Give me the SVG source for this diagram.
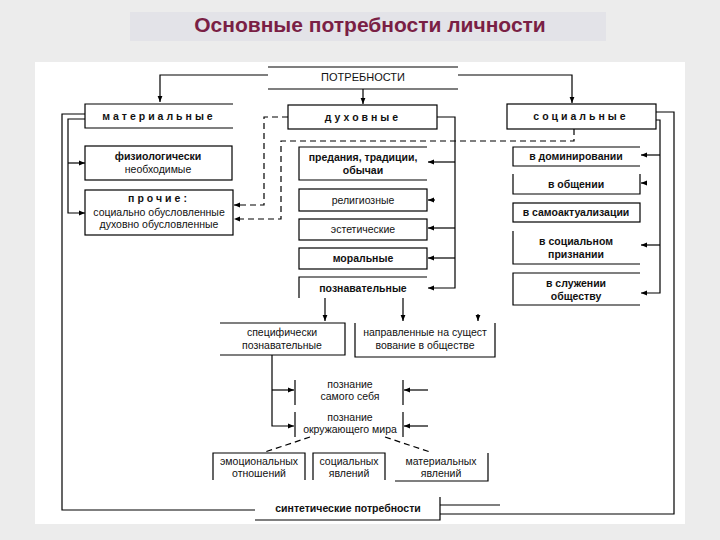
<svg xmlns="http://www.w3.org/2000/svg" width="720" height="540" viewBox="0 0 720 540">
<defs>
<marker id="a" viewBox="0 0 10 10" refX="10" refY="5" markerWidth="5" markerHeight="5" orient="auto"><path d="M0,1 L10,5 L0,9 z" fill="#000"/></marker>
<style>
.l{stroke:#000;stroke-width:1.2;fill:none}
.d{stroke:#000;stroke-width:1.2;fill:none;stroke-dasharray:6,4}
.b{fill:#fff;stroke:#000;stroke-width:1.2}
text{font-family:"Liberation Sans",Arial,sans-serif;font-size:10.5px;text-anchor:middle;fill:#111}
.bo{font-weight:bold}
.sp{font-weight:bold;letter-spacing:3px}
</style>
</defs>
<rect width="720" height="540" fill="#ececec"/>
<rect x="130" y="12" width="476" height="29" fill="#e3e3e8"/>
<text x="370" y="32" style="font-size:21px;font-weight:bold;fill:#7a1f45">Основные потребности личности</text>
<rect x="35" y="62" width="650" height="462" fill="#fff"/>
<g id="connectors">
<path class="l" d="M268,75 H160 V102" marker-end="url(#a)"/>
<path class="l" d="M458,75 H572 V103" marker-end="url(#a)"/>
<path class="l" d="M363,89 V104" marker-end="url(#a)"/>
<path class="l" d="M85,114 H62 V510 H255"/>
<path class="l" d="M85,119 H68 V213 H85" marker-end="url(#a)"/>
<path class="l" d="M68,163 H85" marker-end="url(#a)"/>
<path class="d" d="M288,117 H264 V205 H234" marker-end="url(#a)"/>
<path class="d" d="M574,129 V141 H281 V219 H234" marker-end="url(#a)"/>
<path class="l" d="M437,117 H455 V288 H428" marker-end="url(#a)"/>
<path class="l" d="M455,162 H428" marker-end="url(#a)"/>
<path class="l" d="M435,200 H428" marker-end="url(#a)"/>
<path class="l" d="M455,228 H428" marker-end="url(#a)"/>
<path class="l" d="M455,258 H428" marker-end="url(#a)"/>
<path class="l" d="M325,298 V321" marker-end="url(#a)"/>
<path class="l" d="M403,298 V321" marker-end="url(#a)"/>
<path class="l" d="M478,314 V321" marker-end="url(#a)"/>
<path class="l" d="M656,112 H674 V514 H440"/>
<path class="l" d="M440,505 H500"/>
<path class="l" d="M656,120 H660 V293 H641" marker-end="url(#a)"/>
<path class="l" d="M660,155 H641" marker-end="url(#a)"/>
<path class="l" d="M647,183 H641" marker-end="url(#a)"/>
<path class="l" d="M660,245 H641" marker-end="url(#a)"/>
<path class="l" d="M272,355 V426 H294" marker-end="url(#a)"/>
<path class="l" d="M272,390 H294" marker-end="url(#a)"/>
<path class="l" d="M428,390 H404" marker-end="url(#a)"/>
<path class="l" d="M428,426 H404" marker-end="url(#a)"/>
<path class="d" d="M310,437 L265,452"/>
<path class="d" d="M385,437 L430,452"/>
</g>
<g id="n-potr"><path class="l" d="M268,67 H458 M268,89 H458"/><text x="363" y="81" style="font-size:11px">ПОТРЕБНОСТИ</text></g>
<g id="n-mat"><path class="l" d="M233,104 H85 V128 H233"/><text x="159" y="120" class="sp">материальные</text></g>
<g id="n-fiz"><rect class="b" x="85" y="146" width="147" height="34"/><text x="158" y="160" class="bo">физиологически</text><text x="158" y="173">необходимые</text></g>
<g id="n-pro"><rect class="b" x="85" y="190" width="148" height="45"/><text x="159" y="202" class="sp">прочие:</text><text x="159" y="216">социально обусловленные</text><text x="159" y="228">духовно обусловленные</text></g>
<g id="n-duh"><rect class="b" x="288" y="105" width="149" height="24"/><text x="363" y="121" class="sp">духовные</text></g>
<g id="n-pred"><path class="l" d="M427,147 H299 V180 H427"/><text x="363" y="161" class="bo">предания, традиции,</text><text x="363" y="174" class="bo">обычаи</text></g>
<g id="n-rel"><rect class="b" x="299" y="189" width="128" height="22"/><text x="363" y="204">религиозные</text></g>
<g id="n-est"><rect class="b" x="299" y="219" width="128" height="21"/><text x="363" y="233">эстетические</text></g>
<g id="n-mor"><rect class="b" x="299" y="248" width="128" height="21"/><text x="363" y="262" class="bo">моральные</text></g>
<g id="n-poz"><path class="l" d="M299,298 V277 H427"/><text x="363" y="292" class="bo">познавательные</text></g>
<g id="n-soc"><rect class="b" x="507" y="104" width="149" height="25"/><text x="581" y="120" class="sp">социальные</text></g>
<g id="n-dom"><path class="l" d="M640,147 H513 V166 H640"/><text x="576" y="160" class="bo">в доминировании</text></g>
<g id="n-obsh"><path class="l" d="M513,174 V194 H640 V174"/><text x="576" y="188" class="bo">в общении</text></g>
<g id="n-sam"><rect class="b" x="513" y="203" width="127" height="19"/><text x="576" y="216" class="bo">в самоактуализации</text></g>
<g id="n-pri"><path class="l" d="M513,231 V264 H640"/><text x="576" y="245" class="bo">в социальном</text><text x="576" y="258" class="bo">признании</text></g>
<g id="n-slu"><path class="l" d="M640,273 H513 V305 H640"/><text x="576" y="287" class="bo">в служении</text><text x="576" y="300" class="bo">обществу</text></g>
<g id="n-spec"><path class="l" d="M220,323 H345 V355 H220"/><text x="282" y="336">специфически</text><text x="282" y="349">познавательные</text></g>
<g id="n-napr"><path class="l" d="M355,323 V357 H495 V323"/><text x="425" y="336">направленные на сущест</text><text x="425" y="349">вование в обществе</text></g>
<g id="n-sebya"><path class="l" d="M295,380 V405 M403,380 V405"/><text x="350" y="388">познание</text><text x="350" y="400">самого себя</text></g>
<g id="n-mir"><path class="l" d="M295,412 V437 M403,412 V437"/><text x="350" y="421">познание</text><text x="350" y="433">окружающего мира</text></g>
<g id="n-emo"><path class="l" d="M213,480 V453 H305 V480"/><text x="259" y="465">эмоциональных</text><text x="259" y="477">отношений</text></g>
<g id="n-sj"><path class="l" d="M313,480 V453 H385 V480"/><text x="349" y="465">социальных</text><text x="349" y="477">явлений</text></g>
<g id="n-mj"><path class="l" d="M395,481 H488 V453"/><text x="441" y="465">материальных</text><text x="441" y="477">явлений</text></g>
<g id="n-sin"><path class="l" d="M255,520 H440 V497"/><text x="348" y="512" class="bo">синтетические потребности</text></g>
</svg>
